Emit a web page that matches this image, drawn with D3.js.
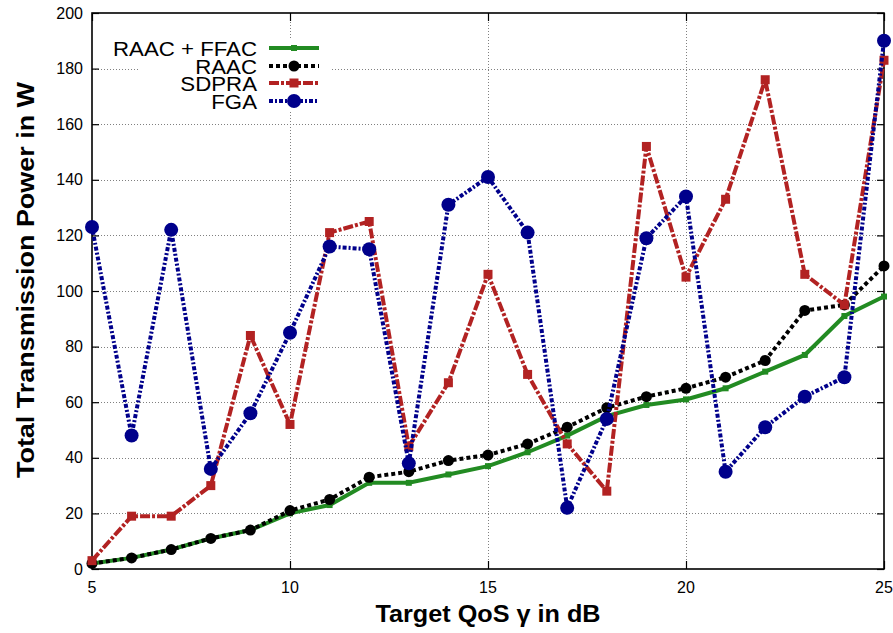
<!DOCTYPE html>
<html>
<head>
<meta charset="utf-8">
<script src="https://cdn.jsdelivr.net/npm/d3@7/dist/d3.min.js"></script>
<style>
  body { margin: 0; background: #fff; }
  svg { display: block; }
  text { font-family: "Liberation Sans", Arial, Helvetica, sans-serif; fill: #000; }
</style>
</head>
<body>
<svg id="chart" width="893" height="633"></svg>
<script>
// Target QoS (dB) and total transmission power (W) per scheme
const qos      = [5, 6, 7, 8, 9, 10, 11, 12, 13, 14, 15, 16, 17, 18, 19, 20, 21, 22, 23, 24, 25];
const raacFfac = [2, 4, 7, 11, 14, 20, 23, 31, 31, 34, 37, 42, 48, 55, 59, 61, 65, 71, 77, 91, 98];
const raac     = [2, 4, 7, 11, 14, 21, 25, 33, 35, 39, 41, 45, 51, 58, 62, 65, 69, 75, 93, 95, 109];
const sdpra    = [3, 19, 19, 30, 84, 52, 121, 125, 44, 67, 106, 70, 45, 28, 152, 105, 133, 176, 106, 95, 183];
const fga      = [123, 48, 122, 36, 56, 85, 116, 115, 38, 131, 141, 121, 22, 54, 119, 134, 35, 51, 62, 69, 190];

const xTicks = [5, 10, 15, 20, 25];
const yTicks = [0, 20, 40, 60, 80, 100, 120, 140, 160, 180, 200];
const seriesNames = ["RAAC + FFAC", "RAAC", "SDPRA", "FGA"];

const L = 92, R = 884, T = 13, B = 569;
const svg = d3.select("#chart");
const x = d3.scaleLinear().domain([5, 25]).range([L, R]);
const y = d3.scaleLinear().domain([0, 200]).range([B, T]);

// grid
const grid = svg.append("g").attr("stroke", "#808080").attr("stroke-width", 1).attr("stroke-dasharray", "1,2");
yTicks.filter(v => v > 0 && v < 200).forEach(v => {
  grid.append("line").attr("x1", L).attr("x2", R).attr("y1", Math.round(y(v)) + 0.5).attr("y2", Math.round(y(v)) + 0.5);
});
xTicks.filter(v => v > 5 && v < 25).forEach(v => {
  grid.append("line").attr("x1", Math.round(x(v)) + 0.5).attr("x2", Math.round(x(v)) + 0.5).attr("y1", T).attr("y2", B);
});

// axes (inward ticks, mirrored)
const yAxisL = d3.axisRight(y).tickValues(yTicks).tickSize(7).tickFormat("");
const yAxisR = d3.axisLeft(y).tickValues(yTicks).tickSize(7).tickFormat("");
const xAxisB = d3.axisTop(x).tickValues(xTicks).tickSize(8).tickFormat("");
const xAxisT = d3.axisBottom(x).tickValues(xTicks).tickSize(8).tickFormat("");
[[yAxisL, `translate(${L},0)`], [yAxisR, `translate(${R},0)`], [xAxisB, `translate(0,${B})`], [xAxisT, `translate(0,${T})`]]
  .forEach(([ax, tr]) => {
    const g = svg.append("g").attr("transform", tr).call(ax);
    g.select(".domain").remove();
    g.selectAll("line").attr("stroke", "#000").attr("stroke-width", 1.2);
  });
svg.append("rect").attr("x", L).attr("y", T).attr("width", R - L).attr("height", B - T)
  .attr("fill", "none").attr("stroke", "#000").attr("stroke-width", 1.6);

// tick labels
svg.append("g").selectAll("text").data(yTicks).join("text")
  .attr("x", 83).attr("y", d => y(d)).attr("dy", "0.35em")
  .attr("text-anchor", "end").attr("font-size", 16).text(d => d);
svg.append("g").selectAll("text").data(xTicks).join("text")
  .attr("x", d => x(d)).attr("y", 593)
  .attr("text-anchor", "middle").attr("font-size", 16).text(d => d);

// axis titles
svg.append("text").attr("x", (L + R) / 2).attr("y", 622).attr("text-anchor", "middle")
  .attr("font-size", 23).attr("font-weight", "bold")
  .attr("textLength", 225).attr("lengthAdjust", "spacingAndGlyphs")
  .text("Target QoS γ in dB");
svg.append("text").attr("transform", "translate(34,280) rotate(-90)").attr("text-anchor", "middle")
  .attr("font-size", 24).attr("font-weight", "bold")
  .attr("textLength", 396).attr("lengthAdjust", "spacingAndGlyphs")
  .text("Total Transmission Power in W");

// series styles
const styles = [
  { vals: raacFfac, color: "#228b22", dash: null,        marker: "square", size: 6 },
  { vals: raac,     color: "#000000", dash: "4,3",       marker: "circle", size: 5.5 },
  { vals: sdpra,    color: "#b22222", dash: "10,2,3,2",  marker: "square", size: 9 },
  { vals: fga,      color: "#00008b", dash: "4,2,2,2",   marker: "circle", size: 7 }
];

const line = d3.line().x(d => x(d[0])).y(d => y(d[1]));
const plot = svg.append("g");

function drawMarker(g, cx, cy, s) {
  if (s.marker === "circle") {
    g.append("circle").attr("cx", cx).attr("cy", cy).attr("r", s.size).attr("fill", s.color);
  } else {
    g.append("rect").attr("x", cx - s.size / 2).attr("y", cy - s.size / 2)
      .attr("width", s.size).attr("height", s.size).attr("fill", s.color);
  }
}

styles.forEach(s => {
  const pts = qos.map((q, i) => [q, s.vals[i]]);
  const p = plot.append("path").attr("d", line(pts)).attr("fill", "none")
    .attr("stroke", s.color).attr("stroke-width", 4).attr("stroke-linejoin", "miter");
  if (s.dash) p.attr("stroke-dasharray", s.dash);
  pts.forEach(d => drawMarker(plot, x(d[0]), y(d[1]), s));
});

// legend
const key = svg.append("g");
key.append("rect").attr("x", 140).attr("y", 39).attr("width", 190).attr("height", 72).attr("fill", "#fff");
const rowY = [48, 66, 83, 101];
styles.forEach((s, i) => {
  key.append("text").attr("x", 257).attr("y", rowY[i]).attr("dy", "0.36em")
    .attr("text-anchor", "end").attr("font-size", 21)
    .attr("transform", `translate(257,${rowY[i]}) scale(1.06,1) translate(-257,${-rowY[i]})`)
    .text(seriesNames[i]);
  const l = key.append("line").attr("x1", 269).attr("x2", 319).attr("y1", rowY[i]).attr("y2", rowY[i])
    .attr("stroke", s.color).attr("stroke-width", 4);
  if (s.dash) l.attr("stroke-dasharray", s.dash);
  drawMarker(key, 294, rowY[i], s);
});
</script>
</body>
</html>
